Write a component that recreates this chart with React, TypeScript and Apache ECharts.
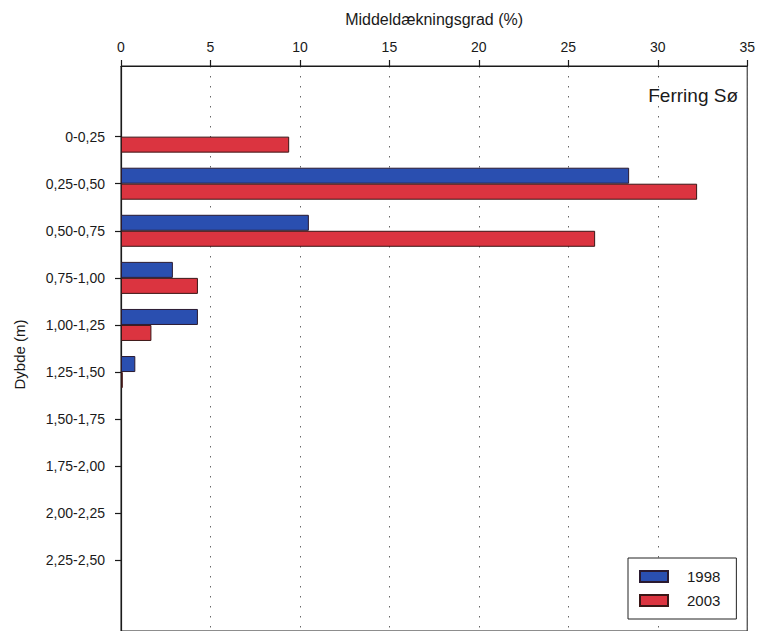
import React, { useEffect, useRef } from "react";
import * as echarts from "echarts";

// Depth intervals (m), top to bottom
const depthClasses = [
  "0-0,25",
  "0,25-0,50",
  "0,50-0,75",
  "0,75-1,00",
  "1,00-1,25",
  "1,25-1,50",
  "1,50-1,75",
  "1,75-2,00",
  "2,00-2,25",
  "2,25-2,50",
];

// Mean coverage (%) per depth interval
const years = ["1998", "2003"];
const cover1998: (number | null)[] = [null, 28.4, 10.5, 2.9, 4.3, 0.8, null, null, null, null];
const cover2003: (number | null)[] = [9.4, 32.2, 26.5, 4.3, 1.7, 0.1, null, null, null, null];

const xTicks = { min: 0, max: 35, interval: 5 };

const FONT = "'Liberation Sans', Arial, Helvetica, sans-serif";

// one blank slot above and below the depth classes
const pad = <T,>(arr: T[]): (T | null)[] => [null, ...arr, null];

export default function App() {
  const ref = useRef<HTMLDivElement>(null);

  useEffect(() => {
    if (!ref.current) return;
    const chart = echarts.init(ref.current, undefined, { renderer: "svg" });
    const cats = ["", ...depthClasses, ""];

    chart.setOption({
      animation: false,
      backgroundColor: "#ffffff",
      textStyle: { fontFamily: FONT },
      title: {
        text: "Ferring Sø",
        right: 15,
        top: 81,
        textStyle: { fontFamily: FONT, fontSize: 19, fontWeight: "normal", color: "#1a1a1a" },
      },
      legend: {
        data: years,
        orient: "vertical",
        left: 628,
        top: 558,
        padding: [11, 16, 11, 11],
        icon: "rect",
        itemWidth: 28,
        itemHeight: 11,
        itemGap: 9,
        borderColor: "#222",
        borderWidth: 1,
        backgroundColor: "#fff",
        textStyle: { fontFamily: FONT, fontSize: 15, color: "#1a1a1a", padding: [0, 0, 0, 14] },
      },
      grid: {
        left: 121,
        right: 10,
        top: 66,
        bottom: -4,
        show: true,
        borderColor: "#1a1a1a",
        borderWidth: 1,
        backgroundColor: "transparent",
      },
      xAxis: {
        type: "value",
        position: "top",
        min: xTicks.min,
        max: xTicks.max,
        interval: xTicks.interval,
        name: "Middeldækningsgrad (%)",
        nameLocation: "middle",
        nameGap: 39,
        nameTextStyle: { fontFamily: FONT, fontSize: 16, color: "#1a1a1a" },
        axisLine: { show: true, lineStyle: { color: "#1a1a1a", width: 1.2 } },
        axisTick: { show: true, length: 6, lineStyle: { color: "#1a1a1a", width: 1.2 } },
        axisLabel: { fontFamily: FONT, fontSize: 14, color: "#1a1a1a", margin: 12 },
        splitLine: { show: true, lineStyle: { color: "#666", width: 1, type: [1.5, 8.5] } },
      },
      yAxis: {
        type: "category",
        inverse: true,
        data: cats,
        name: "Dybde (m)",
        nameLocation: "middle",
        nameGap: 94,
        nameRotate: 90,
        nameTextStyle: { fontFamily: FONT, fontSize: 15, color: "#1a1a1a", padding: [0, 12, 0, 0] },
        axisLine: { show: true, lineStyle: { color: "#1a1a1a", width: 1.2 } },
        axisTick: {
          show: true,
          alignWithLabel: true,
          length: 6,
          interval: (_i: number, v: string) => v !== "",
          lineStyle: { color: "#1a1a1a", width: 1.2 },
        },
        axisLabel: { interval: 0, fontFamily: FONT, fontSize: 14, color: "#1a1a1a", margin: 16 },
        splitLine: { show: false },
      },
      series: [
        {
          name: years[0],
          type: "bar",
          data: pad(cover1998),
          barWidth: 16,
          barGap: "0%",
          itemStyle: { color: "#2a4fb0", borderColor: "#2a1a30", borderWidth: 1 },
        },
        {
          name: years[1],
          type: "bar",
          data: pad(cover2003),
          barWidth: 16,
          barGap: "0%",
          itemStyle: { color: "#db3440", borderColor: "#3a1616", borderWidth: 1 },
        },
      ],
    });

    return () => chart.dispose();
  }, []);

  return (
    <div
      ref={ref}
      style={{ position: "absolute", left: 0, top: 0, width: 758, height: 631 }}
    />
  );
}
